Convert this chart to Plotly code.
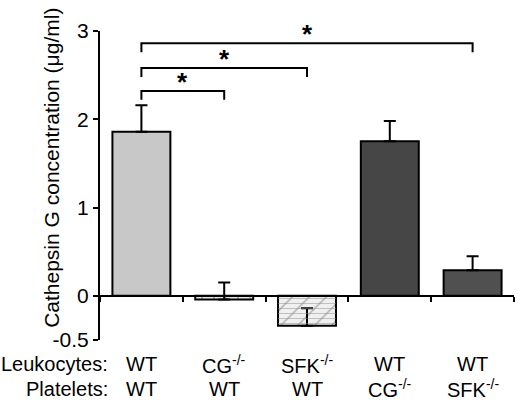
import plotly.graph_objects as go
import numpy as np

# groups (x index order)
leukocytes = ["WT", "CG<sup>-/-</sup>", "SFK<sup>-/-</sup>", "WT", "WT"]
platelets = ["WT", "WT", "WT", "CG<sup>-/-</sup>", "SFK<sup>-/-</sup>"]
conc = [1.86, -0.04, -0.34, 1.75, 0.29]
sem = [0.30, 0.19, 0.20, 0.23, 0.16]
bar_colors = ["#c8c8c8", "#e6e6e6", "#f0f0f0", "#464646", "#505050"]
bar_patterns = ["", "|", "/", "", ""]
extra_patterns = ["", "", "-", "", ""]

# significance brackets: from group, to group, height
sig_from = [0, 0, 0]
sig_to = [1, 2, 4]
sig_y = [2.32, 2.58, 2.86]

y_ticks = [-0.5, 0, 1, 2, 3]
y_ticktext = ["-0.5", "0", "1", "2", "3"]

FONT = "Liberation Sans, Arial, sans-serif"
idx = np.arange(len(conc))

fig = go.Figure()
fig.add_trace(go.Bar(
    x=idx, y=conc, width=0.7,
    marker=dict(color=bar_colors, line=dict(color="black", width=2),
                pattern=dict(shape=bar_patterns, fgcolor="#808080",
                             size=12, solidity=0.1)),
    error_y=dict(type="data", symmetric=False, array=sem,
                 arrayminus=[0] * len(sem), color="black",
                 thickness=2, width=6),
))
# second hatch layer (horizontal lines) for the hatched bar
fig.add_trace(go.Bar(
    x=idx, y=conc, width=0.7,
    marker=dict(color="rgba(0,0,0,0)", line=dict(width=0),
                pattern=dict(shape=extra_patterns, fgcolor="#909090",
                             bgcolor="rgba(0,0,0,0)", size=5, solidity=0.2)),
))

drop = 0.1
for a, b, h in zip(sig_from, sig_to, sig_y):
    fig.add_shape(type="path",
                  path=f"M {a} {h - drop} L {a} {h} L {b} {h} L {b} {h - drop}",
                  xref="x", yref="y", line=dict(color="black", width=2))
    fig.add_annotation(x=(a + b) / 2, y=h, text="<b>*</b>", showarrow=False,
                       xanchor="center", yanchor="bottom", yshift=-8,
                       font=dict(size=26, family=FONT, color="black"))

# group labels under the chart
for i in idx:
    fig.add_annotation(x=i, y=-0.079, xref="x", yref="paper", text=leukocytes[i],
                       showarrow=False, xanchor="center", yanchor="middle",
                       font=dict(size=20, family=FONT, color="black"))
    fig.add_annotation(x=i, y=-0.158, xref="x", yref="paper", text=platelets[i],
                       showarrow=False, xanchor="center", yanchor="middle",
                       font=dict(size=20, family=FONT, color="black"))
fig.add_annotation(x=0.024, y=-0.079, xref="paper", yref="paper", text="Leukocytes:",
                   showarrow=False, xanchor="right", yanchor="middle",
                   font=dict(size=20, family=FONT, color="black"))
fig.add_annotation(x=0.024, y=-0.158, xref="paper", yref="paper", text="Platelets:",
                   showarrow=False, xanchor="right", yanchor="middle",
                   font=dict(size=20, family=FONT, color="black"))
fig.add_annotation(x=-0.116, y=0.557, xref="paper", yref="paper",
                   text="Cathepsin G concentration (μg/ml)", textangle=-90,
                   showarrow=False, xanchor="center", yanchor="middle",
                   font=dict(size=21, family=FONT, color="black"))

fig.update_layout(
    width=520, height=400,
    margin=dict(l=100, r=6, t=31, b=60),
    paper_bgcolor="white", plot_bgcolor="white",
    barmode="overlay", showlegend=False,
    font=dict(family=FONT, color="black"),
    xaxis=dict(range=[-0.5, len(conc) - 0.5], anchor="free", position=0.5 / 3.5,
               showline=True, linecolor="black", linewidth=2,
               tickvals=np.arange(len(conc) + 1) - 0.5, showticklabels=False,
               ticks="outside", ticklen=5, tickwidth=2, tickcolor="black",
               showgrid=False, zeroline=False),
    yaxis=dict(range=[-0.5, 3], tickvals=y_ticks, ticktext=y_ticktext,
               showline=True, linecolor="black", linewidth=2,
               ticks="outside", ticklen=5, tickwidth=2, tickcolor="black",
               tickfont=dict(size=21, family=FONT, color="black"),
               showgrid=False, zeroline=False),
)

fig.write_html("out.html", config={"displayModeBar": False},
               post_script="document.body.style.margin = '0';")
